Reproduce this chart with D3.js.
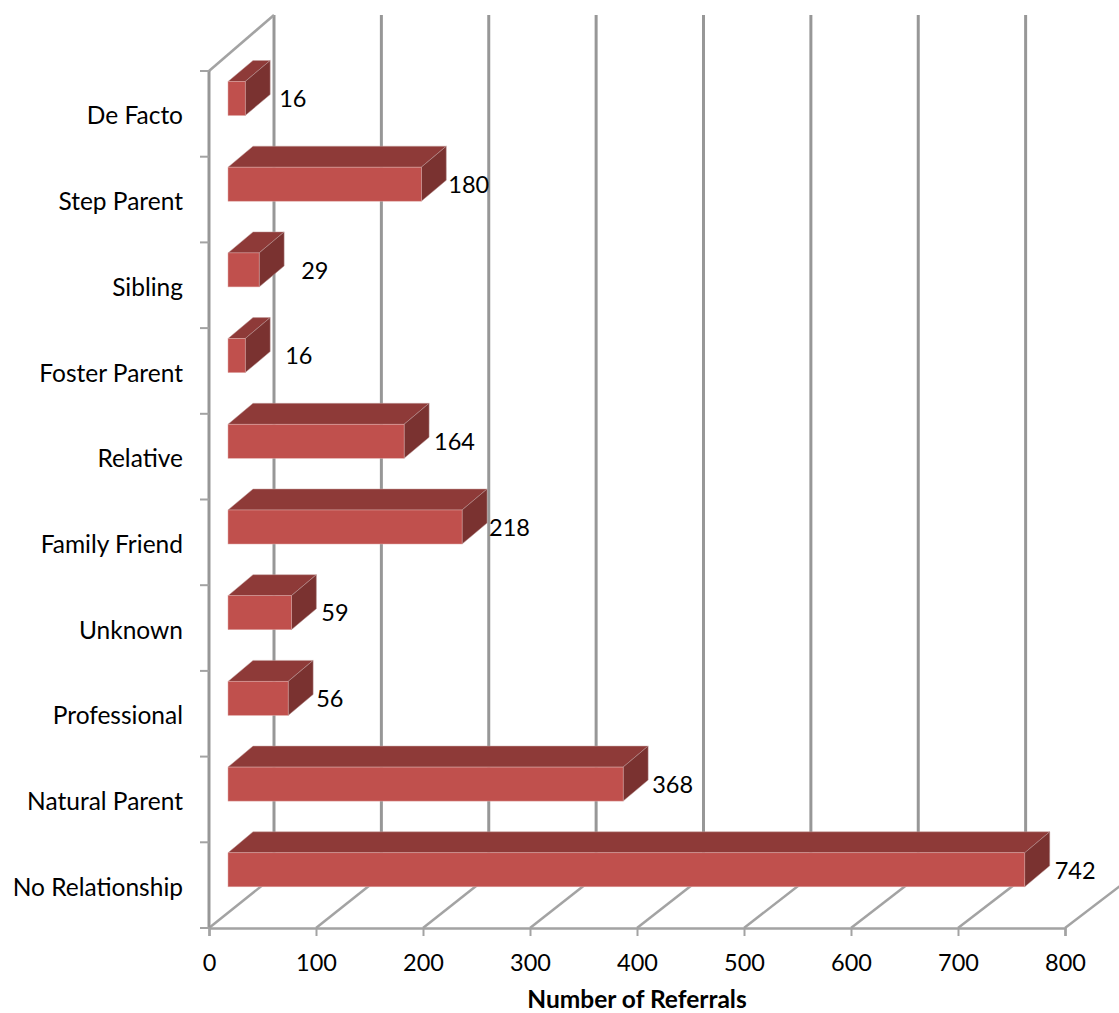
<!DOCTYPE html>
<html>
<head>
<meta charset="utf-8">
<script src="https://cdn.jsdelivr.net/npm/d3@7"></script>
<style>
body { margin: 0; background: #fff; }
text { font-family: Lato, "Open Sans", sans-serif; fill: #000; }
</style>
</head>
<body>
<div class="chart"></div>
<script>
const categories = ['De Facto', 'Step Parent', 'Sibling', 'Foster Parent', 'Relative',
	'Family Friend', 'Unknown', 'Professional', 'Natural Parent', 'No Relationship'];
const referrals = [16, 180, 29, 16, 164, 218, 59, 56, 368, 742];
const xTicks = [0, 100, 200, 300, 400, 500, 600, 700, 800];

// the data labels sit by hand in the original, so they don't line up with the bars
const labelNudge = [9, 2, 17, 15, 5, 2, 5, 3, 4, 5];

const width = 1119;
const height = 1013;
const floorY = 928;
const wallTop = 71;
const backTop = 15;
const backRise = 52;   // how far the floor climbs from front to back
const barGap = 19;     // bars start this far in from the wall
const barDx = 25;
const barDy = 21;

const svg = d3.select('.chart').append('svg')
	.attr('width', width)
	.attr('height', height)
	.style('display', 'block');

const xScale = d3.scaleLinear().domain([0, 800]).range([209, 1065]);
const xBack = d3.scaleLinear().domain([0, 800]).range([274, 1133]);
const yScale = d3.scaleBand().domain(categories).range([wallTop, floorY]);

const xAxis = d3.axisBottom(xScale)
	.tickValues(xTicks)
	.tickSize(8)
	.tickPadding(18);

const gridColor = '#979797';
const axisColor = '#a3a3a3';

// back wall gridlines
svg.append('g').selectAll('line')
	.data(xTicks.slice(0, -1))
	.enter()
	.append('line')
	.attr('x1', d => xBack(d))
	.attr('x2', d => xBack(d))
	.attr('y1', backTop)
	.attr('y2', floorY - backRise)
	.attr('stroke', gridColor)
	.attr('stroke-width', 3);

// floor lines
svg.append('g').selectAll('line')
	.data(xTicks)
	.enter()
	.append('line')
	.attr('x1', d => xScale(d))
	.attr('x2', d => xBack(d))
	.attr('y1', floorY)
	.attr('y2', floorY - backRise)
	.attr('stroke', axisColor)
	.attr('stroke-width', 2.5);

// side wall
svg.append('path')
	.attr('d', d3.line()([[xBack(0), backTop], [xScale(0), wallTop]]))
	.attr('fill', 'none')
	.attr('stroke', axisColor)
	.attr('stroke-width', 2.5);

svg.append('line')
	.attr('x1', xScale(0))
	.attr('x2', xScale(0))
	.attr('y1', wallTop)
	.attr('y2', floorY)
	.attr('stroke', gridColor)
	.attr('stroke-width', 3);

// category ticks, on the band edges
svg.append('g').selectAll('line')
	.data(categories.concat(['end']))
	.enter()
	.append('line')
	.attr('x1', xScale(0) - 9)
	.attr('x2', xScale(0))
	.attr('y1', (d, i) => wallTop + i * yScale.step())
	.attr('y2', (d, i) => wallTop + i * yScale.step())
	.attr('stroke', axisColor)
	.attr('stroke-width', 2);

const gx = svg.append('g')
	.attr('transform', `translate(0, ${floorY})`)
	.call(xAxis);
gx.select('.domain').attr('stroke', axisColor).attr('stroke-width', 2.5);
gx.selectAll('.tick line').attr('stroke', axisColor).attr('stroke-width', 2);
gx.selectAll('.tick text')
	.attr('font-family', null)
	.style('font-size', '23.5px');

// bars: front, top and side faces
const barX0 = xScale(0) + barGap;
const barLen = d => xBack(d) - xBack(0);

const bars = svg.append('g').selectAll('g')
	.data(referrals)
	.enter()
	.append('g')
	.attr('transform', (d, i) => `translate(${barX0}, ${yScale(categories[i]) + 10.5})`);

const barH = 34;

bars.append('path')
	.attr('d', d => `M0,0L${barDx},${-barDy}H${barLen(d) + barDx}L${barLen(d)},0Z`)
	.attr('fill', '#8e3a38')
	.attr('stroke', '#c4a09f')
	.attr('stroke-width', 0.5);

bars.append('path')
	.attr('d', d => `M${barLen(d)},0L${barLen(d) + barDx},${-barDy}V${barH - barDy}L${barLen(d)},${barH}Z`)
	.attr('fill', '#7a3230')
	.attr('stroke', '#b89594')
	.attr('stroke-width', 0.5);

bars.append('rect')
	.attr('width', d => barLen(d))
	.attr('height', barH)
	.attr('fill', '#c0504d')
	.attr('stroke', '#e0a8a6')
	.attr('stroke-width', 0.5);

// value labels
bars.append('text')
	.attr('x', (d, i) => barLen(d) + barDx + labelNudge[i])
	.attr('y', barH / 2 + 0.5)
	.attr('dy', '0.35em')
	.style('font-size', '23.5px')
	.text(d => d);

// category labels
svg.append('g').selectAll('text')
	.data(categories)
	.enter()
	.append('text')
	.attr('x', 183)
	.attr('y', d => yScale(d) + yScale.bandwidth() / 2 + 2)
	.attr('dy', '0.35em')
	.attr('text-anchor', 'end')
	.style('font-size', '24.5px')
	.text(d => d);

// baseline kept high enough that the text box stays inside the picture
svg.append('text')
	.attr('x', 637)
	.attr('y', 1008)
	.attr('text-anchor', 'middle')
	.style('font-size', '24.5px')
	.style('font-weight', 'bold')
	.text('Number of Referrals');
</script>
</body>
</html>
